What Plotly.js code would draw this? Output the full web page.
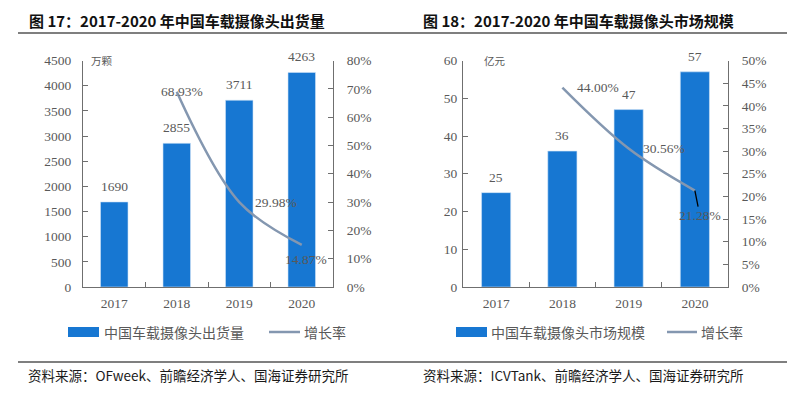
<!DOCTYPE html>
<html>
<head>
<meta charset="utf-8">
<script src="https://cdn.plot.ly/plotly-3.0.1.min.js"></script>
<style>html,body{margin:0;padding:0;background:#fff;}#chart{width:804px;height:399px;}</style>
</head>
<body>
<div id="chart"></div>
<script>
const years = ['2017', '2018', '2019', '2020'];
const shipments = [1690, 2855, 3711, 4263];
const shipGrowth = [null, 68.93, 29.98, 14.87];
const marketSize = [25, 36, 47, 57];
const marketGrowth = [null, 44.00, 30.56, 21.28];

const W = 804, H = 399;
const px = v => v / W;
const py = v => 1 - v / H;

const BAR = '#1777D2';
const LINE = '#8497B0';
const GRAY = '#595959';
const AXIS = '#6f6f6f';
const SERIF = 'Liberation Serif, DejaVu Serif, serif';
const CJK = 'Noto Sans CJK SC, sans-serif';
const tickFont = {family: SERIF, size: 13.5, color: GRAY};

const yTop = 60.5, yBot = 287;
const dom1 = [px(83), px(333)];
const dom2 = [px(463), px(728)];
const ydom = [py(yBot), py(yTop)];

const traces = [
  {type: 'bar', x: years, y: shipments, xaxis: 'x', yaxis: 'y',
   marker: {color: BAR, line: {color: '#cfe3f7', width: 0.6}}, width: 0.44, hoverinfo: 'none'},
  {type: 'scatter', mode: 'lines', x: years, y: shipGrowth, xaxis: 'x', yaxis: 'y2',
   line: {color: LINE, width: 2.5, shape: 'spline', smoothing: 1}, hoverinfo: 'none'},
  {type: 'bar', x: years, y: marketSize, xaxis: 'x2', yaxis: 'y3',
   marker: {color: BAR, line: {color: '#cfe3f7', width: 0.6}}, width: 0.44, hoverinfo: 'none'},
  {type: 'scatter', mode: 'lines', x: years, y: marketGrowth, xaxis: 'x2', yaxis: 'y4',
   line: {color: LINE, width: 2.5, shape: 'spline', smoothing: 1}, hoverinfo: 'none'}
];

function xAxis(domain, anchor) {
  return {domain, anchor, type: 'category', range: [-0.5, 3.5], showline: true, linecolor: AXIS, linewidth: 1,
    ticks: 'inside', ticklen: 5, tickcolor: AXIS, tickson: 'boundaries', showgrid: false, zeroline: false,
    tickfont: tickFont, ticklabelstandoff: 4, fixedrange: true};
}
function yAxis(anchor, range, dtick, extra) {
  return Object.assign({domain: ydom, anchor, range, dtick, showline: true, linecolor: AXIS, linewidth: 1,
    ticks: 'inside', ticklen: 5, tickcolor: AXIS, showgrid: false, zeroline: false, tickfont: tickFont,
    fixedrange: true}, extra || {});
}

const annotations = [];
// bar value labels (x given as category index)
[[shipments, 'x', 'y'], [marketSize, 'x2', 'y3']].forEach(([vals, xa, ya]) => {
  vals.forEach((v, i) => annotations.push({x: years.indexOf(years[i]), y: v, xref: xa, yref: ya, text: String(v),
    showarrow: false, yanchor: 'bottom', yshift: 6, font: tickFont}));
});
// growth labels
const shipOff = [null, [5, 0], [37, 0], [4, -15]];
shipGrowth.forEach((v, i) => { if (v === null) return;
  annotations.push({x: i, y: v, xref: 'x', yref: 'y2', text: v.toFixed(2) + '%', showarrow: false,
    xshift: shipOff[i][0], yshift: shipOff[i][1], font: tickFont}); });
const mktOff = [null, [36, 0], [35, 0], null];
marketGrowth.forEach((v, i) => { if (v === null) return;
  if (mktOff[i]) {
    annotations.push({x: i, y: v, xref: 'x2', yref: 'y4', text: v.toFixed(2) + '%', showarrow: false,
      xshift: mktOff[i][0], yshift: mktOff[i][1], font: tickFont});
  } else {
    annotations.push({x: i, y: v, xref: 'x2', yref: 'y4', text: v.toFixed(2) + '%', showarrow: true,
      arrowhead: 0, arrowwidth: 1.3, arrowcolor: '#000', ax: 5, ay: 25, standoff: 0, font: tickFont});
  }
});
// unit labels
annotations.push({xref: 'paper', yref: 'paper', x: px(89), y: py(60), xanchor: 'left', yanchor: 'middle',
  text: '万颗', showarrow: false, font: {family: CJK, size: 10.5, color: GRAY}});
annotations.push({xref: 'paper', yref: 'paper', x: px(482), y: py(60), xanchor: 'left', yanchor: 'middle',
  text: '亿元', showarrow: false, font: {family: CJK, size: 10.5, color: GRAY}});
// titles
annotations.push({xref: 'paper', yref: 'paper', x: px(27), y: py(20), xanchor: 'left', yanchor: 'middle',
  text: '<b>图 17：2017-2020 年中国车载摄像头出货量</b>', showarrow: false, font: {family: CJK, size: 15, color: '#111'}});
annotations.push({xref: 'paper', yref: 'paper', x: px(421), y: py(20), xanchor: 'left', yanchor: 'middle',
  text: '<b>图 18：2017-2020 年中国车载摄像头市场规模</b>', showarrow: false, font: {family: CJK, size: 15, color: '#111'}});
// legends
const legFont = {family: CJK, size: 14, color: GRAY};
annotations.push({xref: 'paper', yref: 'paper', x: px(102), y: py(332), xanchor: 'left', yanchor: 'middle',
  text: '中国车载摄像头出货量', showarrow: false, font: legFont});
annotations.push({xref: 'paper', yref: 'paper', x: px(302), y: py(332), xanchor: 'left', yanchor: 'middle',
  text: '增长率', showarrow: false, font: legFont});
annotations.push({xref: 'paper', yref: 'paper', x: px(489), y: py(332), xanchor: 'left', yanchor: 'middle',
  text: '中国车载摄像头市场规模', showarrow: false, font: legFont});
annotations.push({xref: 'paper', yref: 'paper', x: px(699), y: py(332), xanchor: 'left', yanchor: 'middle',
  text: '增长率', showarrow: false, font: legFont});
// sources
const srcFont = {family: CJK, size: 13.5, color: '#1a1a1a'};
annotations.push({xref: 'paper', yref: 'paper', x: px(26), y: py(375), xanchor: 'left', yanchor: 'middle',
  text: '资料来源：OFweek、前瞻经济学人、国海证券研究所', showarrow: false, font: srcFont});
annotations.push({xref: 'paper', yref: 'paper', x: px(421), y: py(375), xanchor: 'left', yanchor: 'middle',
  text: '资料来源：ICVTank、前瞻经济学人、国海证券研究所', showarrow: false, font: srcFont});

const shapes = [
  {type: 'line', xref: 'paper', yref: 'paper', x0: px(18), x1: px(787), y0: py(33), y1: py(33), line: {color: '#555', width: 1.5}},
  {type: 'line', xref: 'paper', yref: 'paper', x0: px(18), x1: px(787), y0: py(362), y1: py(362), line: {color: '#555', width: 1.5}},
  {type: 'rect', xref: 'paper', yref: 'paper', x0: px(68), x1: px(99), y0: py(327), y1: py(337), fillcolor: BAR, line: {width: 0}},
  {type: 'line', xref: 'paper', yref: 'paper', x0: px(269), x1: px(300), y0: py(332), y1: py(332), line: {color: LINE, width: 2.5}},
  {type: 'rect', xref: 'paper', yref: 'paper', x0: px(456), x1: px(487), y0: py(327), y1: py(337), fillcolor: BAR, line: {width: 0}},
  {type: 'line', xref: 'paper', yref: 'paper', x0: px(667), x1: px(697), y0: py(332), y1: py(332), line: {color: LINE, width: 2.5}}
];

const layout = {
  width: W, height: H, margin: {l: 0, r: 0, t: 0, b: 0}, paper_bgcolor: '#fff', plot_bgcolor: 'rgba(0,0,0,0)',
  showlegend: false, bargap: 0.56,
  xaxis: xAxis(dom1, 'y'),
  xaxis2: xAxis(dom2, 'y3'),
  yaxis: yAxis('x', [0, 4500], 500, {ticklabelstandoff: 8}),
  yaxis2: yAxis('x', [0, 80], 10, {overlaying: 'y', side: 'right', ticksuffix: '%', ticklabelstandoff: 10}),
  yaxis3: yAxis('x2', [0, 60], 10, {ticklabelstandoff: 2}),
  yaxis4: yAxis('x2', [0, 50], 5, {overlaying: 'y3', side: 'right', ticksuffix: '%', ticklabelstandoff: 10}),
  annotations, shapes
};

Plotly.newPlot('chart', traces, layout, {staticPlot: true, displayModeBar: false});
</script>
</body>
</html>
